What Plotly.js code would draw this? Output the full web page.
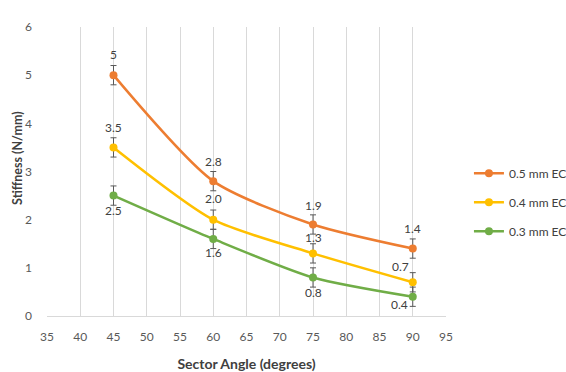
<!DOCTYPE html>
<html>
<head>
<meta charset="utf-8">
<script src="https://cdn.plot.ly/plotly-3.0.1.min.js"></script>
<style>
  html, body { margin: 0; padding: 0; background: #fff; }
  #chart { width: 566px; height: 372px; }
</style>
</head>
<body>
<div id="chart"></div>
<script>
// Sector angle (degrees) tested for each thickness
const sectorAngles = [45, 60, 75, 90];

// Mean stiffness (N/mm) per series
const stiff05 = [5, 2.8, 1.9, 1.4];
const stiff04 = [3.5, 2.0, 1.3, 0.7];
const stiff03 = [2.5, 1.6, 0.8, 0.4];

// Error bar half-widths (N/mm)
const err05 = [0.2, 0.2, 0.2, 0.2];
const err04 = [0.2, 0.2, 0.2, 0.2];
const err03 = [0.2, 0.2, 0.2, 0.2];

const seriesNames = ['0.5 mm EC', '0.4 mm EC', '0.3 mm EC'];
const xTicks = [35, 40, 45, 50, 55, 60, 65, 70, 75, 80, 85, 90, 95];
const yTicks = [0, 1, 2, 3, 4, 5, 6];

const FONT = 'Lato, "Open Sans", sans-serif';
const colors = ['#ED7D31', '#FFC000', '#70AD47'];

function series(y, err, name, color, group) {
  return {
    x: sectorAngles, y: y, name: name, type: 'scatter', mode: 'lines+markers',
    legendgroup: group,
    line: { color: color, width: 2.5, shape: 'spline', smoothing: 0.7 },
    marker: { color: color, size: 8 },
    error_y: { type: 'data', array: err, visible: true, color: '#595959', thickness: 1, width: 3 },
    hoverinfo: 'x+y'
  };
}

const traces = [
  series(stiff05, err05, seriesNames[0], colors[0], 'g1'),
  series(stiff04, err04, seriesNames[1], colors[1], 'g2'),
  series(stiff03, err03, seriesNames[2], colors[2], 'g3')
];

// Data labels: pixel offsets from each point
const labelFmt = [v => String(v), v => v.toFixed(1), v => String(v)];
const offsets = [
  [[0, -21], [0, -20], [0, -19], [0, -20]],
  [[0, -20], [0, -21], [0, -16], [-12, -16]],
  [[0, 15], [0, 14], [0, 15], [-13, 8]]
];
const allY = [stiff05, stiff04, stiff03];
const annotations = [];
allY.forEach((ys, s) => {
  ys.forEach((v, i) => {
    annotations.push({
      x: sectorAngles[i], y: v, xref: 'x', yref: 'y',
      text: labelFmt[s](v), showarrow: false,
      xshift: offsets[s][i][0], yshift: -offsets[s][i][1],
      font: { family: FONT, size: 12, color: '#404040' }
    });
  });
});

// Vertical axis title
annotations.push({
  text: 'Stiffness (N/mm)', xref: 'paper', yref: 'paper',
  x: -0.0727, y: 0.547, xanchor: 'center', yanchor: 'middle',
  textangle: -90, showarrow: false,
  font: { family: FONT, size: 12.5, color: '#404040', weight: 'bold' }
});

const layout = {
  width: 566, height: 372,
  paper_bgcolor: '#fff', plot_bgcolor: '#fff',
  margin: { l: 47, r: 120, t: 27, b: 56, autoexpand: false },
  font: { family: FONT, color: '#595959', size: 12 },
  showlegend: true,
  legend: {
    x: 1.0575, xanchor: 'left', y: 0.394, yanchor: 'middle',
    traceorder: 'grouped', tracegroupgap: 10,
    font: { family: FONT, size: 12, color: '#404040' },
    bgcolor: 'rgba(0,0,0,0)'
  },
  xaxis: {
    range: [35, 95], tickvals: xTicks, ticktext: xTicks.map(String),
    showgrid: true, gridcolor: '#d9d9d9', gridwidth: 1,
    zeroline: false, showline: true, linecolor: '#d9d9d9', linewidth: 1,
    ticks: '', ticklabelstandoff: 10,
    tickfont: { family: FONT, size: 12, color: '#595959' },
    title: { text: 'Sector Angle (degrees)', standoff: 16,
             font: { family: FONT, size: 14, color: '#404040', weight: 'bold' } }
  },
  yaxis: {
    range: [0, 6], tickvals: yTicks, ticktext: yTicks.map(String),
    showgrid: false, zeroline: false, showline: false,
    ticks: '', ticklabelstandoff: 14,
    tickfont: { family: FONT, size: 12, color: '#595959' }
  },
  annotations: annotations
};

Plotly.newPlot('chart', traces, layout, { displayModeBar: false, staticPlot: true });
</script>
</body>
</html>
